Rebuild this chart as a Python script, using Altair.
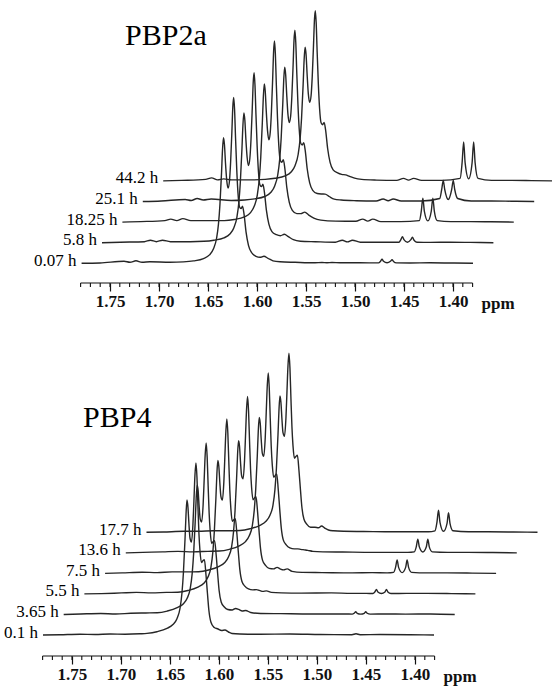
import altair as alt
import pandas as pd

# ---------------- data ----------------
TOP_LABELS = ["0.07 h", "5.8 h", "18.25 h", "25.1 h", "44.2 h"]
TOP_PPM = [
    1.779, 1.7602, 1.7357, 1.7296, 1.7235, 1.7173, 1.7092, 1.6888,
    1.6750, 1.6648, 1.6546, 1.6485, 1.6444, 1.6413, 1.6393, 1.6378, 1.6362, 1.6352,
    1.6342, 1.6332, 1.6322, 1.6309, 1.6295, 1.6281, 1.6269, 1.6256, 1.6247, 1.6238,
    1.6229, 1.6219, 1.6207, 1.6194, 1.6179, 1.6163, 1.6148, 1.6133, 1.6112, 1.6087, 1.6056,
    1.6010, 1.5969, 1.5929, 1.5888, 1.5837, 1.5765, 1.5612, 1.5408, 1.5337, 1.5286,
    1.5235, 1.5153, 1.4949, 1.4760, 1.4740, 1.4724, 1.4709, 1.4673, 1.4638, 1.4622,
    1.4607, 1.4577, 1.4439, 1.4235, 1.4031, 1.3796]
TOP_T0 = [0, 0.3, 2, 1, 2.5, 1, 1.5, 1,
          1.4, 2.4, 4.7, 8.4, 14.5, 24.8, 39.4, 59.1, 90.4, 113.4,
          125.6, 118.6, 101.1, 83.2, 75.2, 82.3, 101.5, 132.4, 156, 165.8,
          154.1, 125.5, 94.7, 70.2, 56.6, 54.7, 57, 49.7, 31.5, 18, 10.8,
          7, 6, 7, 5, 2.5, 1.5, 1, 0.5, 0.8, 0.5,
          0.8, 0.5, 0.5, 0.4, 2, 4, 2, 0.5, 2, 3.5,
          1.8, 0.4, 0.3, 0.5, 0.3, 0]
TOP_T1 = [0, 0.5, 1, 2.5, 1, 2.5, 1, 1,
          1.4, 2.5, 4.8, 8.7, 15.0, 25.6, 40.7, 61.0, 93.3, 117.0,
          129.7, 122.3, 104.0, 85.5, 77.2, 84.4, 104.0, 135.7, 159.9, 170.0,
          158.0, 128.6, 97.1, 72.0, 58.0, 56.1, 58.4, 50.9, 32.3, 18.5, 11.1,
          8, 7, 8.4, 6, 3, 1.5, 1, 0.5, 2.5, 0.8,
          2.5, 0.5, 0.5, 0.5, 3, 6, 3, 0.5, 3, 5.5,
          2.7, 0.5, 0.3, 0.5, 0.3, 0]
TOP_T2 = [0, 0.5, 1.5, 3, 1.5, 3.5, 1.5, 1.5,
          1.5, 2.6, 5.2, 9.2, 16.0, 27.3, 43.3, 65.0, 99.4, 124.7,
          138.2, 130.5, 111.2, 91.5, 82.3, 90.0, 110.9, 144.7, 170.5, 181.2,
          168.4, 137.2, 103.5, 76.7, 61.9, 59.8, 62.3, 54.3, 34.4, 19.7, 11.8,
          8.5, 8.5, 10, 7, 4, 2, 1, 0.8, 3, 1,
          3, 0.5, 0.5, 1.5, 11, 24, 11, 1.2, 11, 24,
          11, 1.5, 0.5, 0.5, 0.3, 0]
TOP_T3 = [0, 0.5, 2, 1, 3, 1.5, 2.5, 1,
          1.5, 2.6, 5.0, 9.0, 15.5, 26.5, 42.1, 63.2, 96.6, 121.2,
          134.3, 126.8, 108.1, 87.4, 79.0, 85.6, 105.0, 136.8, 161.1, 171.3,
          159.2, 129.6, 97.8, 72.5, 58.5, 56.5, 58.9, 51.3, 32.5, 18.6, 11.2,
          8, 7.5, 7.4, 5, 2.4, 1.5, 0.8, 0.5, 2.5, 0.8,
          2.5, 0.5, 0.5, 3, 12, 21, 12, 2, 12, 21,
          12, 3, 0.5, 0.5, 0.3, 0]
TOP_T4 = [0, 0.5, 1.5, 3, 1, 2, 1, 1,
          1.5, 2.6, 5.0, 8.9, 15.4, 26.4, 42.0, 62.9, 96.3, 120.8,
          133.7, 126.3, 107.7, 87.0, 78.5, 85.1, 104.5, 136.0, 160.2, 170.3,
          158.3, 128.9, 97.3, 72.1, 58.1, 56.2, 58.5, 51.0, 32.4, 18.5, 11.1,
          8, 6.5, 6, 4.5, 2.7, 1.5, 0.8, 0.5, 2.5, 0.8,
          2.5, 0.5, 0.5, 2.5, 18, 39, 18, 2, 18, 39,
          18, 2.5, 0.5, 0.5, 0.3, 0]
TOP_INT = [TOP_T0, TOP_T1, TOP_T2, TOP_T3, TOP_T4]

BOT_LABELS = ["0.1 h", "3.65 h", "5.5 h", "7.5 h", "13.6 h", "17.7 h"]
BOT0_PPM = [
    1.7796, 1.7622, 1.7418, 1.7265, 1.7112, 1.6959, 1.6806,
    1.6735, 1.6633, 1.6531, 1.6470, 1.6429, 1.6398, 1.6378, 1.6363, 1.6347, 1.6337,
    1.6327, 1.6317, 1.6307, 1.6296, 1.6281, 1.6266, 1.6256, 1.6245, 1.6235, 1.6225,
    1.6215, 1.6205, 1.6194, 1.6179, 1.6164, 1.6149, 1.6133, 1.6118, 1.6103, 1.6082, 1.6052,
    1.6010, 1.5974, 1.5939, 1.5903, 1.5867, 1.5786, 1.5582, 1.5276, 1.4969, 1.4643,
    1.4602, 1.4561, 1.4357, 1.4051, 1.3806]
BOT0_INT = [0, 0.3, 0.8, 0.5, 1, 0.8, 1.2,
            1.6, 3.3, 6.6, 10.5, 16.3, 26.5, 42, 62.5, 95.3, 119.5,
            135, 128, 111.5, 97, 93, 110.5, 134, 160.5, 172, 158,
            129, 102, 84, 72.5, 74.3, 75.3, 60.4, 41.7, 24.5, 12.7, 7.8,
            6, 4.5, 5, 3, 1.5, 1, 0.8, 1, 0.5, 0.3,
            1.2, 0.3, 0.5, 0.3, 0]
BOT_PPM = [
    1.7796, 1.7622, 1.7418, 1.7265, 1.7112, 1.6959,
    1.6842, 1.6740, 1.6638, 1.6577, 1.6536, 1.6505, 1.6485, 1.6470, 1.6454, 1.6444,
    1.6434, 1.6424, 1.6414, 1.6403, 1.6388, 1.6373, 1.6363, 1.6352, 1.6342, 1.6332,
    1.6322, 1.6312, 1.6301, 1.6286, 1.6271, 1.6256, 1.6240, 1.6225, 1.6210, 1.6189, 1.6159,
    1.6122, 1.6077, 1.6041, 1.6010, 1.5974, 1.5939, 1.5888, 1.5786, 1.5582, 1.5276,
    1.5071, 1.4918, 1.4852, 1.4832, 1.4816, 1.4801, 1.4765, 1.4729, 1.4714, 1.4699,
    1.4668, 1.4510, 1.4306, 1.4051, 1.3806]
BOT_T1 = [0, 0.5, 1, 0.5, 1.2, 1.5,
          1.7, 3.4, 6.8, 10.5, 16.2, 25.8, 40.8, 60.8, 92.7, 116.2,
          129.3, 123.6, 108.2, 95.5, 92.5, 110, 133.6, 160, 171.6, 157.5,
          128.6, 101.7, 83.2, 71, 72.8, 73.8, 59.3, 41, 24, 12.5, 7.7,
          5, 4.5, 6, 5, 3.5, 4, 2, 1, 0.8, 0.5,
          0.5, 0.5, 0.3, 1.2, 2.7, 1.2, 0.3, 1.2, 2.7, 1.2,
          0.3, 0.5, 0.3, 0.5, 0]
BOT_T2 = [0, 0.3, 1, 1.5, 1, 1.5,
          1.7, 3.4, 6.8, 10.7, 16.6, 26.5, 42, 62.7, 95.6, 119.9,
          133.4, 127.5, 111.4, 97.6, 93.8, 111.8, 136.1, 163, 175, 160.5,
          131.1, 103.6, 84.8, 72.5, 74.2, 75.3, 60.4, 41.7, 24.5, 12.7, 7.8,
          5, 4, 4.3, 3.5, 2.5, 3, 1.5, 1, 0.8, 1,
          0.5, 0.5, 0.4, 2, 4.4, 2, 0.4, 2, 4.4, 2,
          0.4, 0.5, 0.5, 0.3, 0]
BOT_T3 = [0, 0.5, 1.2, 0.8, 1.5, 1.5,
          1.7, 3.4, 6.8, 10.7, 16.6, 26.4, 41.9, 62.4, 95.1, 119.3,
          132.7, 126.9, 111.1, 97.8, 94.6, 113, 137.6, 164.8, 177, 162.4,
          132.6, 104.8, 85.9, 73.6, 75.5, 76.7, 61.5, 42.5, 25, 13, 8,
          5, 4.5, 6, 4.5, 3.5, 4.5, 2, 1, 0.8, 0.5,
          0.8, 0.5, 1, 6, 13.4, 6, 0.8, 6, 13.4, 6,
          1, 0.5, 0.5, 0.3, 0]
BOT_T4 = [0, 0.5, 1, 1.5, 1, 1.5,
          1.8, 3.5, 7, 11, 17, 27, 42.7, 63.7, 97.1, 121.8,
          135.4, 129.5, 113.3, 99.8, 96.5, 115, 140, 167.6, 180, 165,
          134.8, 106.8, 87.7, 75.5, 77.5, 79, 63, 43.5, 25.5, 13, 8,
          5, 4, 4, 3.5, 3, 2.5, 1.5, 1, 0.8, 0.5,
          0.5, 0.5, 1, 6, 13.7, 6, 0.8, 6, 13.7, 6,
          1, 0.5, 0.5, 0.3, 0]
BOT_T5 = [0, 0.3, 1, 1, 1.5, 1.5,
          1.8, 3.5, 7, 11, 17, 27.1, 42.9, 64, 97.5, 122.3,
          136.3, 129.9, 113.5, 99.6, 96, 114.3, 139.2, 166.7, 179, 164.2,
          134.1, 106, 86.7, 74.1, 75.9, 77, 61.8, 42.7, 25, 13, 8,
          5, 5, 4.5, 6.3, 4, 2.3, 1.5, 1, 0.8, 0.5,
          0.5, 0.5, 1.5, 10, 22, 10, 1, 9, 19.6, 9,
          1.5, 0.5, 0.5, 0.3, 0]
BOT_INT = [BOT0_INT, BOT_T1, BOT_T2, BOT_T3, BOT_T4, BOT_T5]
BOT_PPMS = [BOT0_PPM] + [BOT_PPM] * 5

TICK_LABELS = [1.75, 1.70, 1.65, 1.60, 1.55, 1.50, 1.45, 1.40]
MINOR_TICKS = [1.78, 1.77, 1.76, 1.75, 1.74, 1.73, 1.72, 1.71, 1.70, 1.69, 1.68,
               1.67, 1.66, 1.65, 1.64, 1.63, 1.62, 1.61, 1.60, 1.59, 1.58, 1.57,
               1.56, 1.55, 1.54, 1.53, 1.52, 1.51, 1.50, 1.49, 1.48, 1.47, 1.46,
               1.45, 1.44, 1.43, 1.42, 1.41, 1.40, 1.39, 1.38]
AXIS_RANGE = [1.78, 1.38]

for p, i in zip([TOP_PPM] * 5, TOP_INT):
    assert len(p) == len(i), (len(p), len(i))
for p, i in zip(BOT_PPMS, BOT_INT):
    assert len(p) == len(i), (len(p), len(i))

# ---------------- layout ----------------
W, H = 552, 686
LINE = "#262626"
FONT = "Liberation Serif, Times New Roman, Times, serif"

panels = {
    "top": dict(dom=[1.298980, 1.862245], axis_y=403, base=422.7, dy=20.6,
                dx=0.02082, ppms=[TOP_PPM] * 5, ints=TOP_INT, labels=TOP_LABELS,
                ppm_x=481, ppm_y=25.3),
    "bot": dict(dom=[1.260204, 1.823469], axis_y=30, base=51, dy=20.54,
                dx=0.02112, ppms=BOT_PPMS, ints=BOT_INT, labels=BOT_LABELS,
                ppm_x=443, ppm_y=25.7),
}

ys = alt.Scale(domain=[0, H], nice=False, zero=False)


def panel_layers(P):
    xs = alt.Scale(domain=P["dom"], reverse=True, nice=False, zero=False)
    rows, lab = [], []
    for k, (pp, ii) in enumerate(zip(P["ppms"], P["ints"])):
        for j, (p, v) in enumerate(zip(pp, ii)):
            rows.append({"trace": k, "idx": j, "x": p - k * P["dx"],
                         "y": P["base"] + k * P["dy"] + v})
        lab.append({"x": pp[0] - k * P["dx"], "y": P["base"] + k * P["dy"],
                    "t": P["labels"][k]})
    df = pd.DataFrame(rows)
    dl = pd.DataFrame(lab)

    lines = alt.Chart(df).mark_line(interpolate="monotone", color=LINE,
                                    strokeWidth=1.4).encode(
        x=alt.X("x:Q", scale=xs, axis=None),
        y=alt.Y("y:Q", scale=ys, axis=None),
        detail="trace:N",
        order="idx:Q",
    )
    labels = alt.Chart(dl).mark_text(align="right", baseline="alphabetic",
                                     dx=-5, dy=2.5, font=FONT, fontSize=17,
                                     color="black").encode(
        x=alt.X("x:Q", scale=xs, axis=None),
        y=alt.Y("y:Q", scale=ys, axis=None),
        text="t:N",
    )
    ax = alt.Axis(values=TICK_LABELS, format=".2f", orient="bottom",
                  offset=-P["axis_y"],
                  domain=False, grid=False, ticks=True, tickSize=8,
                  tickWidth=1.2, tickColor="#111", labelFont=FONT,
                  labelFontSize=17, labelFontWeight="bold", labelColor="#111",
                  labelPadding=2, labelFlush=False, labelOverlap=False,
                  title="ppm", titleFont=FONT, titleFontSize=17,
                  titleFontWeight="bold", titleColor="#111", titleX=P["ppm_x"],
                  titleY=P["ppm_y"], titleAlign="left",
                  titleBaseline="alphabetic", titleAngle=0)
    da = pd.DataFrame({"x": [AXIS_RANGE[0]], "x2": [AXIS_RANGE[1]],
                       "y": [P["axis_y"]]})
    axis_line = alt.Chart(da).mark_rule(color="#111", strokeWidth=1.2).encode(
        x=alt.X("x:Q", scale=xs, axis=ax),
        x2="x2:Q",
        y=alt.Y("y:Q", scale=ys, axis=None),
    )
    dm = pd.DataFrame({"x": MINOR_TICKS})
    dm["y"] = P["axis_y"]
    dm["y2"] = P["axis_y"] - 4
    minor = alt.Chart(dm).mark_rule(color="#111", strokeWidth=1.1).encode(
        x=alt.X("x:Q", scale=xs, axis=None),
        y=alt.Y("y:Q", scale=ys, axis=None),
        y2="y2:Q",
    )
    return [lines, labels, axis_line, minor]


title_top = alt.Chart(pd.DataFrame({"t": ["PBP2a"]})).mark_text(
    font=FONT, fontSize=30, align="left", baseline="alphabetic", color="black"
).encode(x=alt.value(125), y=alt.value(45), text="t:N")
title_bot = alt.Chart(pd.DataFrame({"t": ["PBP4"]})).mark_text(
    font=FONT, fontSize=30, align="left", baseline="alphabetic", color="black"
).encode(x=alt.value(83), y=alt.value(427), text="t:N")

layers = panel_layers(panels["top"]) + panel_layers(panels["bot"]) + [title_top, title_bot]

chart = alt.layer(*layers).resolve_scale(x="independent").properties(
    width=W, height=H, padding=0,
    autosize=alt.AutoSizeParams(type="none"),
).configure_view(stroke=None)

chart.save("out.html", embed_options={"renderer": "svg", "actions": False})
